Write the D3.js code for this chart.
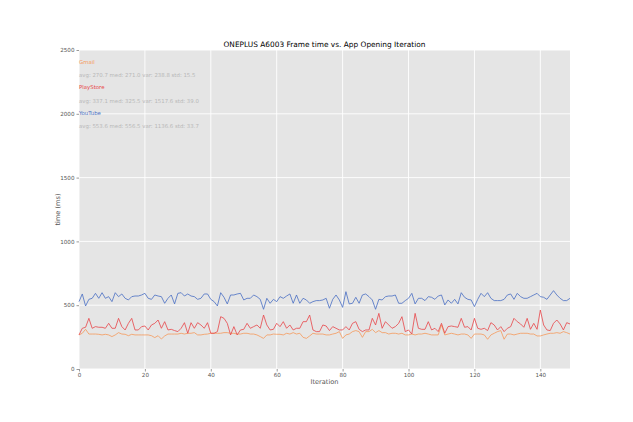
<!DOCTYPE html>
<html>
<head>
<meta charset="utf-8">
<script src="https://cdn.jsdelivr.net/npm/d3@7"></script>
<style>
  body { margin: 0; background: #fff; }
  svg { font-family: "DejaVu Sans", sans-serif; }
</style>
</head>
<body>
<script>
var title = "ONEPLUS A6003 Frame time vs. App Opening Iteration";
var apps = ["Gmail", "PlayStore", "YouTube"];
var stats = [
  "avg: 270.7 med: 271.0 var: 238.8 std: 15.5",
  "avg: 337.1 med: 325.5 var: 1517.6 std: 39.0",
  "avg: 553.6 med: 556.5 var: 1136.6 std: 33.7"
];
var colors = ["#f59a5c", "#e8474a", "#4a6fc4"];
var yTicks = [0, 500, 1000, 1500, 2000, 2500];
var xTicks = [0, 20, 40, 60, 80, 100, 120, 140];

var gmail = [
  267,280,311,274,274,274,272,267,272,267, 254,267,285,274,272,261,272,267,267,267,
  267,267,261,246,261,235,259,274,274,274, 274,280,274,280,280,285,267,267,272,274,
  280,280,280,280,285,285,280,280,274,274, 280,280,274,274,267,254,240,267,267,274,
  272,272,267,280,274,285,274,280,248,240, 259,280,274,274,274,267,267,274,280,293,
  240,267,274,293,301,293,248,293,293,311, 285,301,285,285,274,280,280,274,280,267,
  267,274,267,274,274,280,274,267,267,267, 345,267,274,280,274,267,274,274,267,240,
  274,274,274,267,233,267,280,293,301,233, 274,274,267,274,280,280,280,274,274,259,
  259,267,274,280,280,285,280,293,285,274
];
var playstore = [
  267,319,327,397,319,332,327,327,319,358, 319,319,397,332,306,358,397,306,306,332,
  337,306,345,358,384,319,371,306,311,301, 293,319,363,280,363,319,363,345,319,363,
  280,280,293,410,397,358,267,332,267,306, 311,358,319,332,345,319,423,345,306,311,
  358,332,371,319,345,306,319,319,371,371, 423,306,293,293,345,337,301,332,319,306,
  306,332,306,358,371,311,293,306,306,397, 345,436,319,371,345,319,332,358,410,293,
  306,274,436,319,311,311,371,306,319,293, 358,280,332,337,332,327,397,327,332,306,
  397,319,311,319,301,363,345,306,332,293, 319,332,397,371,353,327,397,311,358,311,
  462,345,306,301,358,384,353,306,363,353
];
var youtube = [
  528,588,494,546,554,593,554,598,554,567, 528,598,567,588,554,541,567,572,572,580,
  593,554,546,580,572,567,515,554,580,510, 593,598,572,588,572,567,546,554,588,588,
  546,528,494,598,562,510,580,580,588,593, 541,554,554,580,567,546,468,554,515,546,
  528,567,554,572,588,515,580,515,554,541, 515,528,536,536,541,554,476,546,580,541,
  483,606,510,515,562,515,580,588,567,541, 468,546,541,567,572,572,580,515,515,536,
  554,593,510,554,554,536,567,562,546,572, 580,502,541,515,546,510,598,562,546,541,
  489,546,593,567,598,554,536,536,536,546, 580,588,546,593,567,554,554,567,580,593,
  567,562,546,580,614,580,554,536,536,554
];
var series = [gmail, playstore, youtube];

var W = 633, H = 422;
var margin = { left: 79, right: 63, top: 50, bottom: 53 };

var svg = d3.select("body").append("svg")
  .attr("width", W).attr("height", H);

var x = d3.scaleLinear().domain([0, gmail.length - 1]).range([margin.left, W - margin.right]);
var y = d3.scaleLinear().domain([0, 2500]).range([H - margin.bottom, margin.top]);

// plot background
svg.append("rect")
  .attr("x", x.range()[0]).attr("y", y.range()[1])
  .attr("width", x.range()[1] - x.range()[0])
  .attr("height", y.range()[0] - y.range()[1])
  .attr("fill", "#e5e5e5");

// grid
svg.append("g").selectAll("line").data(xTicks).enter().append("line")
  .attr("x1", function(d){ return x(d); }).attr("x2", function(d){ return x(d); })
  .attr("y1", y.range()[0]).attr("y2", y.range()[1])
  .attr("stroke", "#fff").attr("stroke-width", 0.9);
svg.append("g").selectAll("line").data(yTicks).enter().append("line")
  .attr("x1", x.range()[0]).attr("x2", x.range()[1])
  .attr("y1", function(d){ return y(d); }).attr("y2", function(d){ return y(d); })
  .attr("stroke", "#fff").attr("stroke-width", 0.9);

// axes
var fmt = d3.format("d");
var xAxis = svg.append("g")
  .attr("transform", "translate(0," + y.range()[0] + ")")
  .call(d3.axisBottom(x).tickValues(xTicks).tickFormat(fmt).tickSize(2.5).tickPadding(2));
var yAxis = svg.append("g")
  .attr("transform", "translate(" + x.range()[0] + ",0)")
  .call(d3.axisLeft(y).tickValues(yTicks).tickFormat(fmt).tickSize(2.5).tickPadding(2));
[xAxis, yAxis].forEach(function(a){
  a.select(".domain").remove();
  a.selectAll("line").attr("stroke", "#555").attr("stroke-width", 0.6);
  a.selectAll("text").attr("fill", "#555").style("font-size", "5.6px")
    .style("font-family", "DejaVu Sans");
});

// lines
var line = d3.line()
  .x(function(d, i){ return x(i); })
  .y(function(d){ return y(d); });
svg.append("g").selectAll("path").data(series).enter().append("path")
  .attr("d", line)
  .attr("fill", "none")
  .attr("stroke", function(d, i){ return colors[i]; })
  .attr("stroke-width", 0.9)
  .attr("stroke-opacity", 0.9);

// title and labels
svg.append("text")
  .attr("x", (x.range()[0] + x.range()[1]) / 2).attr("y", 47)
  .attr("text-anchor", "middle")
  .style("font-size", "7.4px").attr("fill", "#000")
  .text(title);
svg.append("text")
  .attr("x", (x.range()[0] + x.range()[1]) / 2).attr("y", 384)
  .attr("text-anchor", "middle")
  .style("font-size", "6.6px").attr("fill", "#555")
  .text("Iteration");
svg.append("text")
  .attr("transform", "translate(60," + ((y.range()[0] + y.range()[1]) / 2) + ") rotate(-90)")
  .attr("text-anchor", "middle")
  .style("font-size", "6.6px").attr("fill", "#555")
  .text("time (ms)");

// stats legend
var leg = svg.append("g");
apps.forEach(function(name, i){
  var top = 63.5 + i * 25.8;
  leg.append("text")
    .attr("x", x.range()[0]).attr("y", top)
    .style("font-size", "5.4px").attr("fill", colors[i])
    .text(name);
  leg.append("text")
    .attr("x", x.range()[0]).attr("y", top + 13.2)
    .style("font-size", "5.4px").attr("fill", "#b8b8b8")
    .text(stats[i]);
});
</script>
</body>
</html>
